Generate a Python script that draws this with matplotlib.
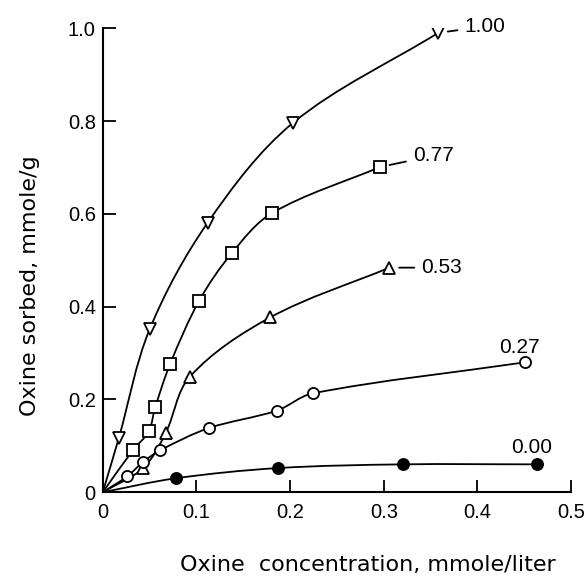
import numpy as np
import matplotlib
matplotlib.use('Agg')
import matplotlib.pyplot as plt
from matplotlib.path import Path
from matplotlib.patches import PathPatch

# data: oxine concentration (mmole/liter) vs oxine sorbed (mmole/g)
x_100 = [0.017, 0.050, 0.112, 0.203, 0.358]
y_100 = [0.116, 0.351, 0.581, 0.796, 0.990]

x_077 = [0.032, 0.049, 0.056, 0.072, 0.103, 0.138, 0.181, 0.296]
y_077 = [0.090, 0.131, 0.183, 0.277, 0.413, 0.516, 0.602, 0.701]

x_053 = [0.043, 0.067, 0.093, 0.179, 0.306]
y_053 = [0.052, 0.127, 0.249, 0.377, 0.484]

x_027 = [0.026, 0.043, 0.061, 0.113, 0.186, 0.224, 0.451]
y_027 = [0.034, 0.065, 0.090, 0.138, 0.176, 0.213, 0.280]

x_000 = [0.078, 0.187, 0.321, 0.464]
y_000 = [0.030, 0.052, 0.060, 0.060]

labels = ['1.00', '0.77', '0.53', '0.27', '0.00']

xticks = [0, 0.1, 0.2, 0.3, 0.4, 0.5]
xtick_labels = ['0', '0.1', '0.2', '0.3', '0.4', '0.5']
yticks = [0, 0.2, 0.4, 0.6, 0.8, 1.0]
ytick_labels = ['0', '0.2', '0.4', '0.6', '0.8', '1.0']

num_font = 'Liberation Sans'


def smooth_curve(ax, xs, ys, lw=1.3):
    # line from the origin through the points as cubic bezier pieces;
    # tangent at a point follows the chord between its two neighbours
    sc = np.array([2.0, 1.0])  # x scaled so both axes are alike on screen
    p = np.array([[0.0, 0.0]] + list(zip(xs, ys))) * sc
    n = len(p)
    tang = np.zeros_like(p)
    for i in range(n):
        d = p[min(i + 1, n - 1)] - p[max(i - 1, 0)]
        tang[i] = d / np.hypot(*d)
    verts = [p[0]]
    codes = [Path.MOVETO]
    for i in range(n - 1):
        L = np.hypot(*(p[i + 1] - p[i]))
        verts += [p[i] + tang[i] * L / 3, p[i + 1] - tang[i + 1] * L / 3, p[i + 1]]
        codes += [Path.CURVE4] * 3
    patch = PathPatch(Path(np.array(verts) / sc, codes), facecolor='none',
                      edgecolor='black', lw=lw, zorder=2)
    ax.add_patch(patch)


fig = plt.figure(figsize=(5.84, 5.77), dpi=100)
ax = fig.add_axes([0.176, 0.147, 0.802, 0.804])

series = [
    (x_100, y_100, 'v', 'white'),
    (x_077, y_077, 's', 'white'),
    (x_053, y_053, '^', 'white'),
    (x_027, y_027, 'o', 'white'),
    (x_000, y_000, 'o', 'black'),
]

for xs, ys, m, fc in series:
    smooth_curve(ax, xs, ys)
    ax.plot(xs, ys, linestyle='none', marker=m, ms=8, mfc=fc, mec='black',
            mew=1.3, zorder=3)

# curve labels; the first three have a short leader line
lab_pos = [(0.386, 1.004), (0.331, 0.725), (0.340, 0.484)]
for (xs, ys, m, fc), lab, pos in zip(series[:3], labels[:3], lab_pos):
    ax.annotate(lab, xy=(xs[-1], ys[-1]), xytext=pos, fontsize=15,
                family=num_font, ha='left', va='center',
                arrowprops=dict(arrowstyle='-', lw=1.3, shrinkA=3, shrinkB=7))
ax.text(0.445, 0.312, labels[3], fontsize=15, family=num_font,
        ha='center', va='center')
ax.text(0.458, 0.097, labels[4], fontsize=15, family=num_font,
        ha='center', va='center')

ax.set_xlim(0, 0.5)
ax.set_ylim(0, 1.0)
ax.set_xticks(xticks)
ax.set_xticklabels(xtick_labels, family=num_font)
ax.set_yticks(yticks)
ax.set_yticklabels(ytick_labels, family=num_font)
ax.tick_params(direction='in', length=9, width=1.3, labelsize=14.5)
ax.tick_params(axis='x', pad=8)
ax.tick_params(axis='y', pad=5)

for s in ['top', 'right']:
    ax.spines[s].set_visible(False)
for s in ['left', 'bottom']:
    ax.spines[s].set_linewidth(1.5)

ax.set_xlabel('Oxine  concentration, mmole/liter', fontsize=16, va='center')
ax.xaxis.set_label_coords(0.565, -0.157)
ax.set_ylabel('Oxine sorbed, mmole/g', fontsize=16, va='center')
ax.yaxis.set_label_coords(-0.156, 0.446)

fig.savefig('out.png', dpi=100)
